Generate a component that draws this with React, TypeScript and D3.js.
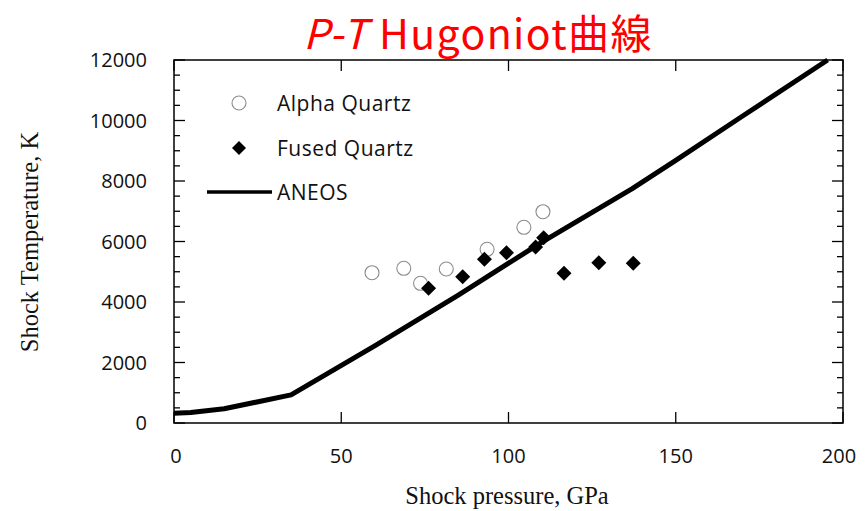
import React from 'react';
import * as d3 from 'd3';

const aneosP = [0, 5, 15, 35, 60, 85, 110, 137, 150, 170, 195.4];
const aneosT = [320, 350, 470, 930, 2550, 4230, 5980, 7750, 8680, 10150, 12000];
const alphaP = [59.2, 68.7, 73.7, 81.4, 93.6, 104.6, 110.3];
const alphaT = [4969, 5114, 4618, 5091, 5742, 6469, 6985];
const fusedP = [76.1, 86.3, 92.8, 99.4, 108.1, 110.5, 116.6, 127.0, 137.3];
const fusedT = [4452, 4837, 5411, 5630, 5820, 6120, 4950, 5300, 5280];
const xTicks = [0, 50, 100, 150, 200];
const yTicks = [0, 2000, 4000, 6000, 8000, 10000, 12000];
const yMinor = d3.range(0, 12001, 500);
const legendLabels = ['Alpha Quartz', 'Fused Quartz', 'ANEOS'];

const W = 867, H = 511;
const L = 174, R = 843, T = 60, B = 423;

export default function App() {
  const x = d3.scaleLinear().domain([0, 200]).range([L, R]);
  const y = d3.scaleLinear().domain([0, 12000]).range([B, T]);
  const line = d3.line<number>().x((_, i) => x(aneosP[i])).y((_, i) => y(aneosT[i]));
  const diamond = (cx: number, cy: number, s: number) =>
    `M${cx},${cy - s}L${cx + s},${cy}L${cx},${cy + s}L${cx - s},${cy}Z`;
  const tickFont = "'Open Sans', 'DejaVu Sans', sans-serif";
  const serif = "'Liberation Serif', 'Times New Roman', serif";
  return (
    <svg width={W} height={H} style={{ position: 'absolute', left: 0, top: 0, background: '#fff' }}>
      <rect x={0} y={0} width={W} height={H} fill="#fff" />
      <text x={478} y={49} textAnchor="middle" fill="#ff0000" fontSize={41} letterSpacing={1.4}
        fontFamily="'Noto Sans CJK JP', 'Noto Sans', sans-serif" style={{ whiteSpace: 'pre' }}>
        <tspan fontStyle="italic">{'P-T '}</tspan>
        <tspan>{'Hugoniot曲線'}</tspan>
      </text>
      {yMinor.map((v) => {
        const major = v % 2000 === 0;
        const len = major ? 11 : 6;
        return (
          <g key={'ym' + v} stroke="#000" strokeWidth={1.3}>
            <line x1={L} x2={L + len} y1={y(v)} y2={y(v)} />
            <line x1={R} x2={R - len} y1={y(v)} y2={y(v)} />
          </g>
        );
      })}
      {xTicks.map((v) => (
        <g key={'xt' + v} stroke="#000" strokeWidth={1.3}>
          <line x1={x(v)} x2={x(v)} y1={B} y2={B - 11} />
          <line x1={x(v)} x2={x(v)} y1={T} y2={T + 11} />
        </g>
      ))}
      <rect x={L} y={T} width={R - L} height={B - T} fill="none" stroke="#000" strokeWidth={1.5} />
      {yTicks.map((v) => (
        <text key={'yl' + v} x={147} y={y(v)} dy="0.36em" textAnchor="end" fontSize={20}
          fontFamily={tickFont} fill="#111">{v}</text>
      ))}
      {xTicks.map((v) => (
        <text key={'xl' + v} x={x(v) + (v === 200 ? -4 : v === 0 ? 2 : 0)} y={463} textAnchor="middle" fontSize={20}
          fontFamily={tickFont} fill="#111">{v}</text>
      ))}
      <text x={507} y={504} textAnchor="middle" fontSize={24.5} fontFamily={serif} fill="#111">
        Shock pressure, GPa
      </text>
      <text transform="translate(38,242) rotate(-90)" textAnchor="middle" fontSize={24.5}
        fontFamily={serif} fill="#111">
        Shock Temperature, K
      </text>
      <path d={line(aneosP) || ''} fill="none" stroke="#000" strokeWidth={5} strokeLinejoin="round" />
      {alphaP.map((p, i) => (
        <circle key={'a' + i} cx={x(p)} cy={y(alphaT[i])} r={7} fill="none" stroke="#8c8c8c" strokeWidth={1.1} />
      ))}
      {fusedP.map((p, i) => (
        <path key={'f' + i} d={diamond(x(p), y(fusedT[i]), 7.5)} fill="#000" />
      ))}
      <circle cx={239} cy={103} r={7} fill="none" stroke="#8c8c8c" strokeWidth={1.1} />
      <text x={277} y={103} dy="0.36em" fontSize={21} letterSpacing={0.5} fontFamily={tickFont} fill="#111">{legendLabels[0]}</text>
      <path d={diamond(239, 148, 7)} fill="#000" />
      <text x={277} y={148} dy="0.36em" fontSize={21} letterSpacing={0.5} fontFamily={tickFont} fill="#111">{legendLabels[1]}</text>
      <line x1={207} x2={272} y1={192} y2={192} stroke="#000" strokeWidth={3.5} />
      <text x={277} y={192} dy="0.36em" fontSize={21} letterSpacing={0.5} fontFamily={tickFont} fill="#111">{legendLabels[2]}</text>
    </svg>
  );
}
